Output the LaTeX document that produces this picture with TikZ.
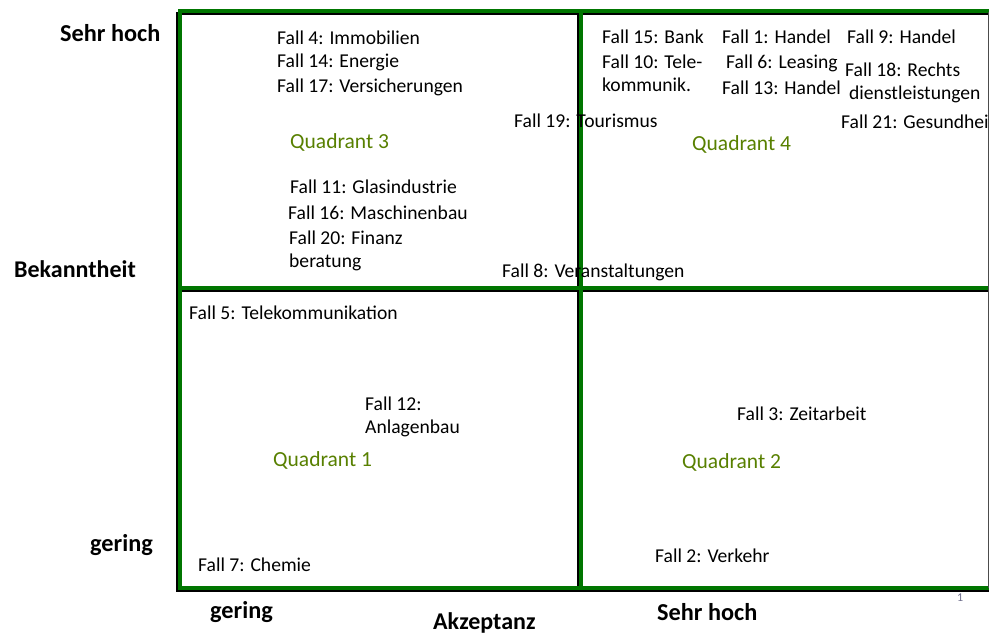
\documentclass[tikz,border=0pt]{standalone}
\usepackage{fontspec}
\setmainfont{Carlito}
\definecolor{framegreen}{RGB}{0,118,0}
\definecolor{quadgreen}{RGB}{88,128,0}
\definecolor{pagegray}{RGB}{110,110,140}
\tikzset{
  frameline/.style={draw=framegreen, line width=3.2pt},
  shadowline/.style={draw=black, line width=3pt},
  fall/.style={anchor=west, inner sep=0pt, align=left, font=\fontsize{19.6}{23}\selectfont},
  quad/.style={anchor=west, inner sep=0pt, text=quadgreen, font=\fontsize{21.5}{26}\selectfont},
  axislabel/.style={anchor=west, inner sep=0pt, font=\bfseries\fontsize{24.3}{26}\selectfont},
  axistitle/.style={anchor=west, inner sep=0pt, font=\bfseries\fontsize{24}{28}\selectfont},
}
\begin{document}
\begin{tikzpicture}[x=1pt, y=-1pt]
\useasboundingbox (0,0) rectangle (989,636);
\clip (0,0) rectangle (989,636);
\fill[white] (0,0) rectangle (989,636);
% frame coordinates
\coordinate (tl) at (180,11);
\coordinate (tr) at (992,11);
\coordinate (bl) at (180,588);
\coordinate (br) at (992,588);
\coordinate (mt) at (581,11);
\coordinate (mb) at (581,588);
\coordinate (ml) at (180,288);
\coordinate (mr) at (992,288);
% shadow coordinates (offset down-left)
\coordinate (stl) at (177.5,13.8);
\coordinate (str) at (992,13.8);
\coordinate (sbl) at (177.5,590.8);
\coordinate (sbr) at (992,590.8);
\coordinate (smt) at (578.5,13.8);
\coordinate (smb) at (578.5,590.8);
\coordinate (sml) at (177.5,290.8);
\coordinate (smr) at (992,290.8);
% shadows
\draw[shadowline] (str) -- (stl) -- (sbl) -- (sbr);
\draw[shadowline] (smt) -- (smb);
\draw[shadowline] (sml) -- (smr);
% green frame
\draw[frameline] (tr) -- (tl) -- (bl) -- (br);
\draw[frameline] (mt) -- (mb);
\draw[frameline] (ml) -- (mr);
% right edge thin line
\coordinate (re1) at (988,12);
\coordinate (re2) at (988,588);
\draw[black!70, line width=1pt] (re1) -- (re2);

% axis labels
\node[axislabel] (yhigh) at (60,33) {Sehr hoch};
\node[axistitle] (ytitle) at (14,269) {Bekanntheit};
\node[axislabel] (ylow) at (90,545) {gering};
\node[axislabel] (xlow) at (210,612) {gering};
\node[axistitle] (xtitle) at (433,623) {Akzeptanz};
\node[axislabel] (xhigh) at (657,612) {Sehr hoch};
\node[anchor=west, inner sep=0pt, text=pagegray, font=\fontsize{12}{14}\selectfont] (pagenum) at (957,598) {1};

% Quadrant 3
\node[fall] (f4) at (277,38) {Fall 4: Immobilien};
\node[fall] (f14) at (277,62) {Fall 14: Energie};
\node[fall] (f17) at (277,87) {Fall 17: Versicherungen};
\node[quad] (q3) at (290,142) {Quadrant 3};
\node[fall] (f19) at (514,121) {Fall 19: Tourismus};
\node[fall] (f11) at (290,187) {Fall 11: Glasindustrie};
\node[fall] (f16) at (288,213) {Fall 16: Maschinenbau};
\node[fall] (f20) at (289,250.5) {Fall 20: Finanz\\beratung};
\node[fall] (f8) at (502,272) {Fall 8: Veranstaltungen};

% Quadrant 4
\node[fall] (f15) at (602,37) {Fall 15: Bank};
\node[fall] (f10) at (602,73.5) {Fall 10: Tele-\\kommunik.};
\node[fall] (f1) at (722,37) {Fall 1: Handel};
\node[fall] (f6) at (726,63) {Fall 6: Leasing};
\node[fall] (f13) at (722,88) {Fall 13: Handel};
\node[fall] (f9) at (847,37) {Fall 9: Handel};
\node[fall] (f18) at (845,82.5) {Fall 18: Rechts\\\hspace*{4pt}dienstleistungen};
\node[fall] (f21) at (841,122) {Fall 21: Gesundheit};
\node[quad] (q4) at (692,144) {Quadrant 4};

% Quadrant 1
\node[fall] (f5) at (189,313) {Fall 5: Telekommunikation};
\node[fall] (f12) at (365,416.5) {Fall 12:\\Anlagenbau};
\node[quad] (q1) at (273,460) {Quadrant 1};
\node[fall] (f7) at (198,565) {Fall 7: Chemie};

% Quadrant 2
\node[fall] (f3) at (737,414) {Fall 3: Zeitarbeit};
\node[quad] (q2) at (682,462) {Quadrant 2};
\node[fall] (f2) at (655,556) {Fall 2: Verkehr};
\end{tikzpicture}
\end{document}
